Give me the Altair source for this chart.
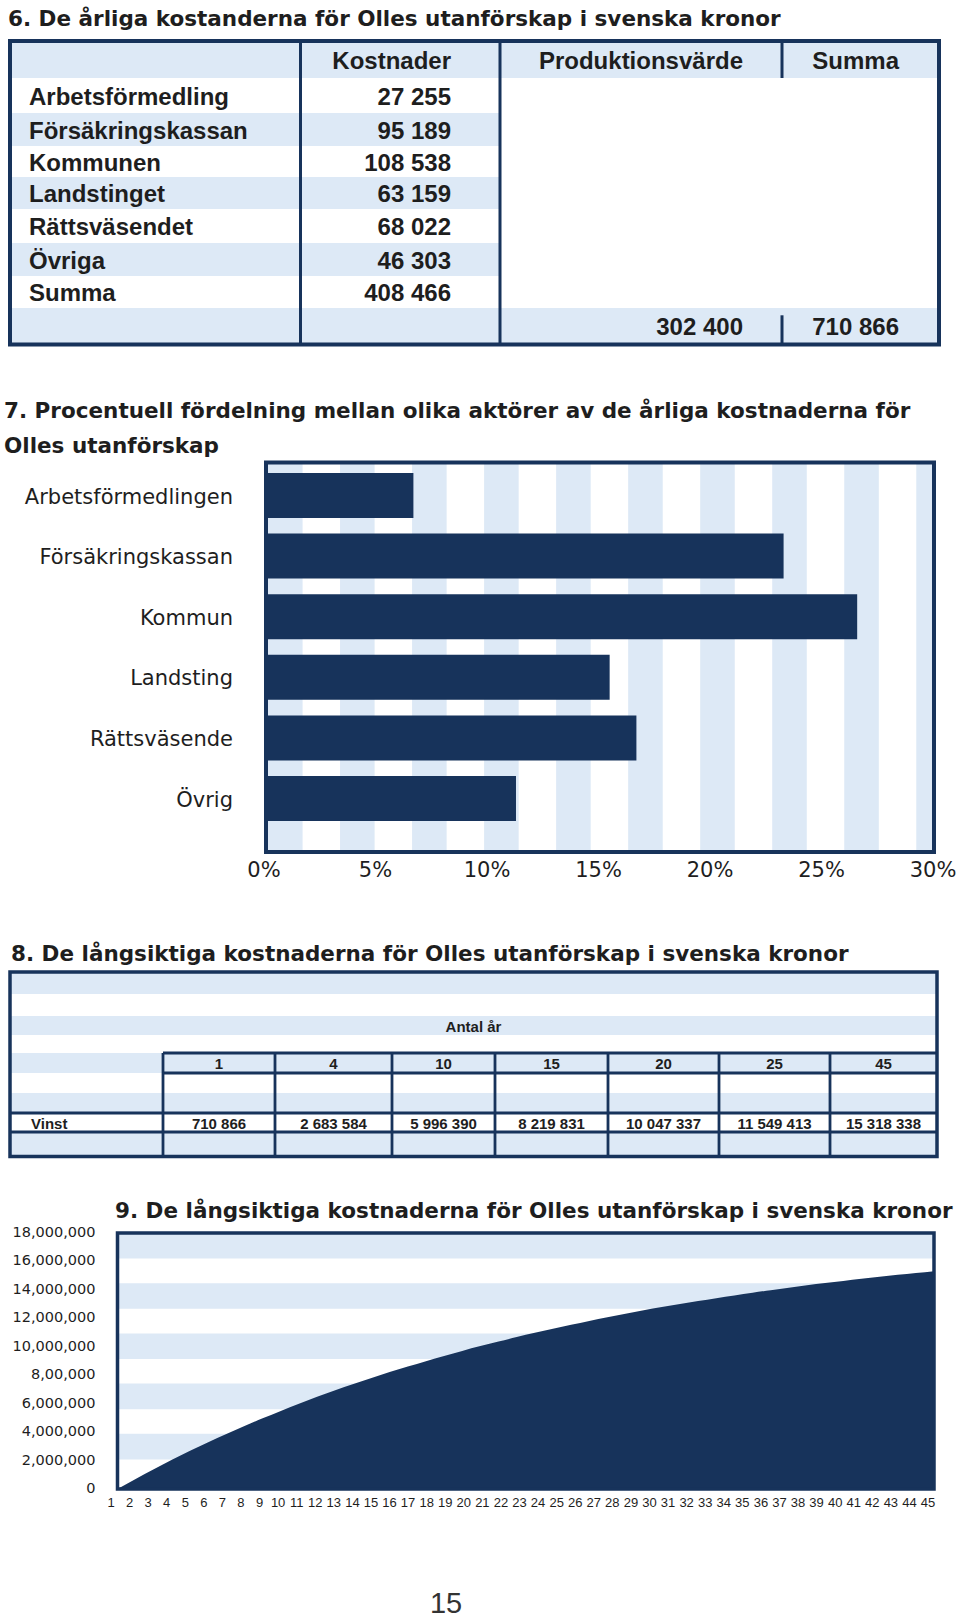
import altair as alt
import pandas as pd

NAVY = "#17335b"
LIGHT = "#dde9f6"
INK = "#1e1e1e"
SANS = "Liberation Sans"
WIDE = "DejaVu Sans"

# ---------------- data ----------------
t6_title = "6. De årliga kostanderna för Olles utanförskap i svenska kronor"
t6_columns = ["Kostnader", "Produktionsvärde", "Summa"]
t6_rows = ["Arbetsförmedling", "Försäkringskassan", "Kommunen", "Landstinget",
           "Rättsväsendet", "Övriga", "Summa"]
t6_costs = [27255, 95189, 108538, 63159, 68022, 46303, 408466]
t6_production = 302400
t6_total = 710866

c7_title_1 = "7. Procentuell fördelning mellan olika aktörer av de årliga kostnaderna för"
c7_title_2 = "Olles utanförskap"
c7_actors = ["Arbetsförmedlingen", "Försäkringskassan", "Kommun", "Landsting",
             "Rättsväsende", "Övrig"]
c7_share = [6.7, 23.3, 26.6, 15.5, 16.7, 11.3]
c7_ticks = [0, 5, 10, 15, 20, 25, 30]

t8_title = "8. De långsiktiga kostnaderna för Olles utanförskap i svenska kronor"
t8_header = "Antal år"
t8_years = [1, 4, 10, 15, 20, 25, 45]
t8_label = "Vinst"
t8_vinst = [710866, 2683584, 5996390, 8219831, 10047337, 11549413, 15318338]

c9_title = "9. De långsiktiga kostnaderna för Olles utanförskap i svenska kronor"
c9_years = list(range(0, 46))
c9_values = [0, 710866, 1390000, 2050000, 2683584, 3290000, 3870000, 4430000,
             4970000, 5490000, 5996390, 6480000, 6940000, 7380000, 7810000,
             8219831, 8610000, 8990000, 9350000, 9710000, 10047337, 10370000,
             10680000, 10980000, 11270000, 11549413, 11820000, 12070000,
             12320000, 12560000, 12790000, 13010000, 13220000, 13420000,
             13610000, 13800000, 13980000, 14150000, 14320000, 14480000,
             14630000, 14780000, 14920000, 15060000, 15190000, 15318338]
c9_label_years = list(range(1, 46))
c9_yticks = [0, 2000000, 4000000, 6000000, 8000000, 10000000, 12000000,
             14000000, 16000000, 18000000]
c9_ylabels = ["0", "2,000,000", "4,000,000", "6,000,000", "8,00,000",
              "10,000,000", "12,000,000", "14,000,000", "16,000,000", "18,000,000"]

page_number = "15"


def sek(v):
    return f"{v:,}".replace(",", " ")


def qenc(channel, field=None, datum=None, domain=None, rng=None):
    sc = alt.Scale(domain=domain, range=rng, nice=False, zero=False)
    if datum is not None:
        return channel(datum=datum, scale=sc, axis=None)
    return channel(field=field, type="quantitative", scale=sc, axis=None)


layers = []

# ---------------- section 6: table ----------------
T6X_DOM = [0, 0.5, 1, 1.5, 2, 2.5, 3, 3.5, 4]
T6X_RNG = [10, 29, 300.5, 451, 500, 743, 782, 899, 939]
n6 = len(t6_rows) + 2
T6Y_DOM = list(range(n6 + 1))
T6Y_RNG = [41, 78, 113, 146, 177, 209, 243, 276, 308, 344.5]


def x6(f=None, d=None):
    return qenc(alt.X, f, d, T6X_DOM, T6X_RNG)


def y6(f=None, d=None):
    return qenc(alt.Y, f, d, T6Y_DOM, T6Y_RNG)


bg6 = pd.DataFrame({"r": list(range(0, n6, 2))})
bg6["r2"] = bg6["r"] + 1
bg6["c0"] = 0
bg6["c1"] = [len(t6_columns) + 1 if r in (0, n6 - 1) else 2 for r in bg6["r"]]
layers.append(alt.Chart(bg6).mark_rect(color=LIGHT).encode(
    x=x6("c0"), x2="c1:Q", y=y6("r"), y2="r2:Q"))

left6 = pd.DataFrame({"t": t6_rows, "c": 0.5, "r": [i + 1.5 for i in range(len(t6_rows))]})
layers.append(alt.Chart(left6).mark_text(
    align="left", baseline="middle", dy=2, font=SANS, fontWeight="bold",
    fontSize=24, color=INK).encode(x=x6("c"), y=y6("r"), text="t:N"))

right_rows = []
for j, h in enumerate(t6_columns, start=1):
    right_rows.append({"c": j + 0.5, "r": 0.5, "t": h})
for i, v in enumerate(t6_costs):
    right_rows.append({"c": 1.5, "r": i + 1.5, "t": sek(v)})
right_rows.append({"c": 2.5, "r": n6 - 0.5, "t": sek(t6_production)})
right_rows.append({"c": 3.5, "r": n6 - 0.5, "t": sek(t6_total)})
layers.append(alt.Chart(pd.DataFrame(right_rows)).mark_text(
    align="right", baseline="middle", dy=2, font=SANS, fontWeight="bold",
    fontSize=24, color=INK).encode(x=x6("c"), y=y6("r"), text="t:N"))

lines6 = pd.DataFrame({"c": [1, 2, 3, 3], "r0": [0, 0, 0, n6 - 0.8], "r1": [n6, n6, 1, n6]})
layers.append(alt.Chart(lines6).mark_rule(color=NAVY, strokeWidth=3).encode(
    x=x6("c"), y=y6("r0"), y2="r1:Q"))

border6 = pd.DataFrame({"c0": [0], "c1": [4], "r0": [0], "r1": [n6]})
layers.append(alt.Chart(border6).mark_rect(
    fillOpacity=0, stroke=NAVY, strokeWidth=4).encode(
    x=x6("c0"), x2="c1:Q", y=y6("r0"), y2="r1:Q"))

# ---------------- section 7: bar chart ----------------
C7X_DOM, C7X_RNG = [0, 30], [264, 933]
C7F_DOM, C7F_RNG = [0, 1], [462.5, 852]


def band7():
    return alt.Scale(type="band", domain=c7_actors, range=[461, 853],
                     paddingInner=0.2574, paddingOuter=0.363, align=0.273)


stripes7 = alt.Chart(alt.sequence(0, 10, as_="i")).transform_calculate(
    s="0.18 + 3.23 * datum.i", e="min(datum.s + 1.55, 30)"
).mark_rect(color=LIGHT).encode(
    x=qenc(alt.X, "s", None, C7X_DOM, C7X_RNG), x2="e:Q",
    y=qenc(alt.Y, None, 0, C7F_DOM, C7F_RNG), y2=alt.Y2(datum=1))
layers.append(stripes7)

df7 = pd.DataFrame({"actor": c7_actors, "share": c7_share})
layers.append(alt.Chart(df7).mark_bar(color=NAVY).encode(
    x=qenc(alt.X, "share", None, C7X_DOM, C7X_RNG),
    y=alt.Y("actor:N", scale=band7(), axis=None)))

layers.append(alt.Chart(df7).mark_text(
    align="right", baseline="middle", dx=-31, dy=2, font=WIDE, fontSize=21,
    color=INK).encode(
    x=qenc(alt.X, None, 0, C7X_DOM, C7X_RNG),
    y=alt.Y("actor:N", scale=band7(), axis=None), text="actor:N"))

ticks7 = pd.DataFrame({"v": c7_ticks, "lab": [f"{t}%" for t in c7_ticks]})
layers.append(alt.Chart(ticks7).mark_text(
    align="center", baseline="middle", dy=19, font=WIDE, fontSize=21,
    color=INK).encode(
    x=qenc(alt.X, "v", None, C7X_DOM, C7X_RNG),
    y=qenc(alt.Y, None, 1, C7F_DOM, C7F_RNG), text="lab:N"))

layers.append(alt.Chart(pd.DataFrame({"a": [0]})).mark_rect(
    fillOpacity=0, stroke=NAVY, strokeWidth=4).encode(
    x=qenc(alt.X, None, 0, [0, 1], [266, 934]), x2=alt.X2(datum=1),
    y=qenc(alt.Y, None, 0, C7F_DOM, C7F_RNG), y2=alt.Y2(datum=1)))

# ---------------- section 8: table ----------------
ncol8 = len(t8_years) + 1
T8X_DOM = list(range(ncol8 + 1))
T8X_RNG = [10, 163, 275, 392, 495, 608, 719, 830, 937]
T8Y_DOM = list(range(10))
T8Y_RNG = [972, 994, 1016, 1035, 1053, 1073, 1093, 1113, 1132, 1156.5]


def x8(f=None, d=None):
    return qenc(alt.X, f, d, T8X_DOM, T8X_RNG)


def y8(f=None, d=None):
    return qenc(alt.Y, f, d, T8Y_DOM, T8Y_RNG)


bg8 = pd.DataFrame({"r": list(range(0, 9, 2))})
bg8["r2"] = bg8["r"] + 1
bg8["c0"] = 0
bg8["c1"] = ncol8
layers.append(alt.Chart(bg8).mark_rect(color=LIGHT).encode(
    x=x8("c0"), x2="c1:Q", y=y8("r"), y2="r2:Q"))

h8 = pd.DataFrame({"r": [4, 5, 7, 8], "c0": [1, 1, 0, 0], "c1": [ncol8] * 4})
layers.append(alt.Chart(h8).mark_rule(color=NAVY, strokeWidth=2.8).encode(
    y=y8("r"), x=x8("c0"), x2="c1:Q"))
v8 = pd.DataFrame({"c": list(range(1, ncol8)), "r0": 4, "r1": 9})
layers.append(alt.Chart(v8).mark_rule(color=NAVY, strokeWidth=2.8).encode(
    x=x8("c"), y=y8("r0"), y2="r1:Q"))

layers.append(alt.Chart(pd.DataFrame({"c0": [0], "c1": [ncol8], "r0": [0], "r1": [9]})).mark_rect(
    fillOpacity=0, stroke=NAVY, strokeWidth=3.5).encode(
    x=x8("c0"), x2="c1:Q", y=y8("r0"), y2="r1:Q"))

cells8 = []
for j, (yr, v) in enumerate(zip(t8_years, t8_vinst), start=1):
    cells8.append({"c": j + 0.5, "r": 4.5, "t": str(yr)})
    cells8.append({"c": j + 0.5, "r": 7.5, "t": sek(v)})
layers.append(alt.Chart(pd.DataFrame(cells8)).mark_text(
    align="center", baseline="middle", dy=1, font=SANS, fontWeight="bold",
    fontSize=15, color=INK).encode(x=x8("c"), y=y8("r"), text="t:N"))
layers.append(alt.Chart(pd.DataFrame({"t": [t8_label], "c": [0], "r": [7.5]})).mark_text(
    align="left", baseline="middle", dx=21, dy=1, font=SANS, fontWeight="bold",
    fontSize=15, color=INK).encode(x=x8("c"), y=y8("r"), text="t:N"))
layers.append(alt.Chart(pd.DataFrame({"t": [t8_header], "r": [2.5]})).mark_text(
    align="center", baseline="middle", dy=1, font=SANS, fontWeight="bold",
    fontSize=15, color=INK).encode(
    x=qenc(alt.X, None, 0.5, [0, 1], [10, 937]), y=y8("r"), text="t:N"))

# ---------------- section 9: area chart ----------------
C9X_DOM, C9X_RNG = [0, 45], [117.5, 934]
C9Y_DOM, C9Y_RNG = [0, 18000000], [1489, 1233]

stripes9 = alt.Chart(alt.sequence(0, 5, as_="i")).transform_calculate(
    top="18000000 - 3530000 * datum.i", bot="datum.top - 1800000"
).mark_rect(color=LIGHT).encode(
    x=qenc(alt.X, None, 0, C9X_DOM, C9X_RNG), x2=alt.X2(datum=45),
    y=qenc(alt.Y, "top", None, C9Y_DOM, C9Y_RNG), y2="bot:Q")
layers.append(stripes9)

df9 = pd.DataFrame({"year": c9_years, "value": c9_values})
layers.append(alt.Chart(df9).mark_area(color=NAVY, interpolate="monotone").encode(
    x=qenc(alt.X, "year", None, C9X_DOM, C9X_RNG),
    y=qenc(alt.Y, "value", None, C9Y_DOM, C9Y_RNG)))

layers.append(alt.Chart(pd.DataFrame({"a": [0]})).mark_rect(
    fillOpacity=0, stroke=NAVY, strokeWidth=3.5).encode(
    x=qenc(alt.X, None, 0, C9X_DOM, C9X_RNG), x2=alt.X2(datum=45),
    y=qenc(alt.Y, None, 0, C9Y_DOM, C9Y_RNG), y2=alt.Y2(datum=18000000)))

ylab9 = pd.DataFrame({"v": c9_yticks, "lab": c9_ylabels})
layers.append(alt.Chart(ylab9).mark_text(
    align="right", baseline="middle", dx=-22, font=WIDE, fontSize=14.5,
    color=INK).encode(
    x=qenc(alt.X, None, 0, C9X_DOM, C9X_RNG),
    y=qenc(alt.Y, "v", None, C9Y_DOM, C9Y_RNG), text="lab:N"))

xlab9 = pd.DataFrame({"yr": c9_label_years, "lab": [str(y) for y in c9_label_years]})
layers.append(alt.Chart(xlab9).mark_text(
    align="center", baseline="middle", dy=14, font=SANS, fontSize=13,
    color=INK).encode(
    x=qenc(alt.X, "yr", None, [1, 45], [111, 928]),
    y=qenc(alt.Y, None, 0, C9Y_DOM, C9Y_RNG), text="lab:N"))

# ---------------- titles & page number ----------------
def title_layer(text, x, y):
    return alt.Chart(pd.DataFrame({"t": [text]})).mark_text(
        align="left", baseline="alphabetic", font=WIDE, fontWeight="bold",
        fontSize=21.5, color=INK).encode(x=alt.value(x), y=alt.value(y), text="t:N")


layers.append(title_layer(t6_title, 8, 25.5))
layers.append(title_layer(c7_title_1, 4, 418))
layers.append(title_layer(c7_title_2, 4, 453))
layers.append(title_layer(t8_title, 11, 961))
layers.append(title_layer(c9_title, 115, 1218))

layers.append(alt.Chart(pd.DataFrame({"t": [page_number]})).mark_text(
    align="center", baseline="middle", font=SANS, fontSize=29, color="#333333").encode(
    x=alt.value(446), y=alt.value(1604), text="t:N"))

chart = alt.layer(*layers).resolve_scale(
    x="independent", y="independent"
).properties(
    width=960, height=1620, padding=0,
    autosize=alt.AutoSizeParams(type="none"), background="white"
).configure_view(strokeWidth=0)

chart.save("out.html", embed_options={"renderer": "svg", "actions": False})
